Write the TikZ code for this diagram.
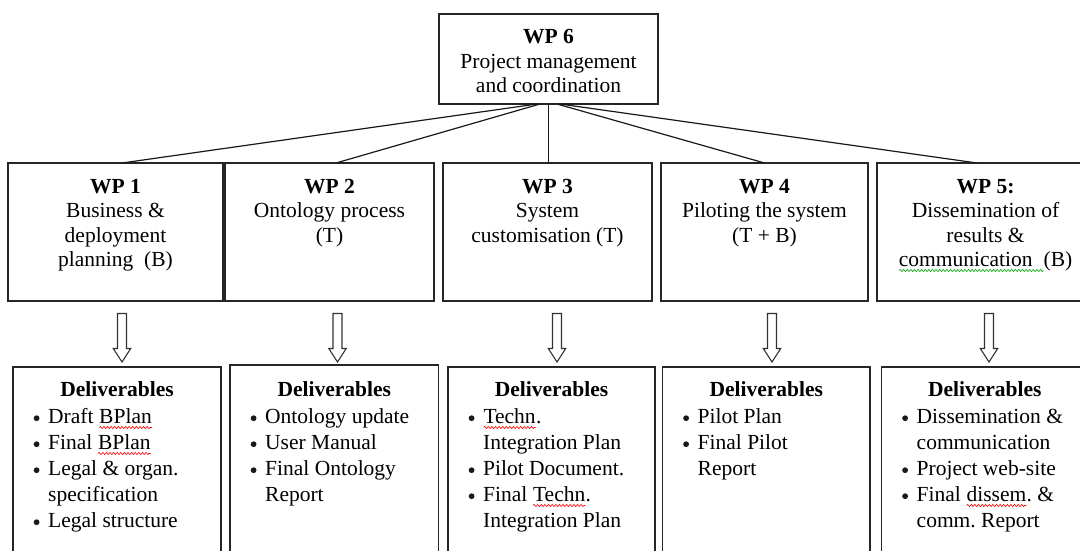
\documentclass[tikz,border=0pt]{standalone}
\usepackage{fontspec}
\setmainfont{Liberation Serif}
\usetikzlibrary{calc,decorations.pathmorphing}
\newcommand\sqw[2]{\tikz[baseline=(sqwbox.base)]{\node[inner sep=0pt,outer sep=0pt,anchor=base,align=left] (sqwbox) {#2};\draw[#1,line width=0.6pt,decorate,decoration={snake,amplitude=1.1pt,segment length=3.6pt}] ([yshift=-3.8pt]sqwbox.base west) -- ([yshift=-3.8pt]sqwbox.base east);}}
\newcommand\bul{\makebox[15pt][l]{\hspace{0.5pt}\raisebox{2.6pt}{\tikz\fill[black!90] (0,0) circle (2.9pt);}}}
\begin{document}
\frenchspacing
\begin{tikzpicture}[x=1pt,y=-1pt,
  wpbox/.style={draw=black!85, line width=1.2pt, inner sep=0pt, outer sep=0pt, anchor=north west},
  wptext/.style={anchor=north, align=center, inner sep=0pt, font=\fontsize{21.5}{24.5}\selectfont},
  dhead/.style={anchor=base, inner sep=0pt, font=\fontsize{21.5}{26}\selectfont\bfseries},
  dlist/.style={anchor=north west, align=left, inner sep=0pt, font=\fontsize{21.5}{26}\selectfont},
  link/.style={line width=1.2pt, draw=black!90},
  arrowline/.style={draw=black!80, line width=1.1pt, fill=white},
  hollowarrow/.pic={\draw[arrowline] (-4.5,0) -- (4.5,0) -- (4.5,35) -- (8.7,35) -- (0,48.5) -- (-8.7,35) -- (-4.5,35) -- cycle;}
]
\clip (0,0) rectangle (1080,551);
\fill[white] (0,0) rectangle (1080,551);

% work package boxes
\node[wpbox, minimum width=219, minimum height=90] (wp6) at (439,14) {};
\node[wpbox, minimum width=215, minimum height=138] (wp1) at (8,163) {};
\node[wpbox, minimum width=209, minimum height=138] (wp2) at (225,163) {};
\node[wpbox, minimum width=209, minimum height=138] (wp3) at (443,163) {};
\node[wpbox, minimum width=207, minimum height=138] (wp4) at (661,163) {};
\node[wpbox, minimum width=217, minimum height=138] (wp5) at (877,163) {};

% deliverable boxes
\node[wpbox, minimum width=208, minimum height=193] (d1) at (13,367) {};
\node[wpbox, minimum width=208.5, minimum height=195] (d2) at (230,365) {};
\node[wpbox, minimum width=207, minimum height=193] (d3) at (448,367) {};
\node[wpbox, minimum width=207.5, minimum height=193] (d4) at (662.5,367) {};
\node[wpbox, minimum width=206.5, minimum height=193] (d5) at (881.5,367) {};

% links from WP 6
\draw[link] ([xshift=-11.5pt]wp6.south) -- ([xshift=6.5pt]wp1.north);
\draw[link] ([xshift=-8.5pt]wp6.south) -- ([xshift=6.5pt]wp2.north);
\draw[link] (wp6.south) -- (wp6.south |- wp3.north);
\draw[link] ([xshift=8.5pt]wp6.south) -- (wp4.north);
\draw[link] ([xshift=11.5pt]wp6.south) -- ([xshift=-8.5pt]wp5.north);

% hollow arrows
\coordinate (a1) at (122,313.5);
\coordinate (a2) at (337.5,313.5);
\coordinate (a3) at (557,313.5);
\coordinate (a4) at (772,313.5);
\coordinate (a5) at (989,313.5);
\pic at (a1) {hollowarrow};
\pic at (a2) {hollowarrow};
\pic at (a3) {hollowarrow};
\pic at (a4) {hollowarrow};
\pic at (a5) {hollowarrow};

% WP texts
\node[wptext] (wp6t) at ([yshift=-12.15pt]wp6.north) {\strut\textbf{WP 6}\\Project management\\and coordination};
\node[wptext] (wp1t) at ([yshift=-12.85pt]wp1.north) {\strut\textbf{WP 1}\\Business \&\\deployment\\planning~~(B)};
\node[wptext] (wp2t) at ([yshift=-12.85pt]wp2.north) {\strut\textbf{WP 2}\\Ontology process\\(T)};
\node[wptext] (wp3t) at ([yshift=-12.85pt]wp3.north) {\strut\textbf{WP 3}\\System\\customisation (T)};
\node[wptext] (wp4t) at ([yshift=-12.85pt]wp4.north) {\strut\textbf{WP 4}\\Piloting the system\\(T + B)};
\node[wptext] (wp5t) at ([yshift=-12.85pt]wp5.north) {\strut\textbf{WP 5:}\\Dissemination of\\results \&\\\sqw{green!65!black}{communication~~}(B)};

% deliverable headings
\node[dhead] (d1h) at ($(d1.north)+(0,29)$) {Deliverables};
\node[dhead] (d2h) at ($(d2.north)+(0,31)$) {Deliverables};
\node[dhead] (d3h) at ($(d3.north)+(0,29)$) {Deliverables};
\node[dhead] (d4h) at ($(d4.north)+(0,29)$) {Deliverables};
\node[dhead] (d5h) at ($(d5.north)+(0,29)$) {Deliverables};

% deliverable lists
\node[dlist] (d1l) at ($(d1.north west)+(20,38.3)$) {\strut\bul Draft \sqw{red}{BPlan}\\\bul Final \sqw{red}{BPlan}\\\bul Legal \& organ.\\\hspace*{15pt}specification\\\bul Legal structure};
\node[dlist] (d2l) at ($(d2.north west)+(20,40.3)$) {\strut\bul Ontology update\\\bul User Manual\\\bul Final Ontology\\\hspace*{15pt}Report};
\node[dlist] (d3l) at ($(d3.north west)+(20,38.3)$) {\strut\bul \sqw{red}{Techn}.\\\hspace*{15pt}Integration Plan\\\bul Pilot Document.\\\bul Final \sqw{red}{Techn}.\\\hspace*{15pt}Integration Plan};
\node[dlist] (d4l) at ($(d4.north west)+(20,38.3)$) {\strut\bul Pilot Plan\\\bul Final Pilot\\\hspace*{15pt}Report};
\node[dlist] (d5l) at ($(d5.north west)+(20,38.3)$) {\strut\bul Dissemination \&\\\hspace*{15pt}communication\\\bul Project web-site\\\bul Final \sqw{red}{dissem}. \&\\\hspace*{15pt}comm. Report};
\end{tikzpicture}
\end{document}
